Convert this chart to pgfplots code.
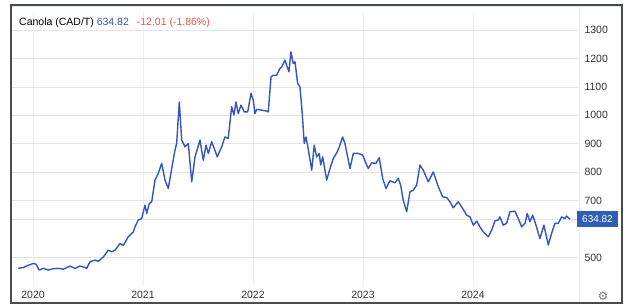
\documentclass[border=0pt]{standalone}
\usepackage{pgfplots}
\pgfplotsset{compat=1.18}
\usepackage{fontspec}
\setmainfont{Liberation Sans}
\newfontfamily\symfont{DejaVu Sans}
\definecolor{tblue}{HTML}{3556BE}
\definecolor{tbox}{HTML}{2E5FB7}
\definecolor{tred}{HTML}{E8554C}
\definecolor{tgrid}{HTML}{E4E4E4}
\definecolor{tvgrid}{HTML}{F0F0F0}
\definecolor{tprice}{HTML}{C9CEE6}
\definecolor{tlabel}{HTML}{333333}
\definecolor{tcyan}{HTML}{D0F0F4}
\begin{document}
\begin{tikzpicture}
\useasboundingbox (0pt,0pt) rectangle (631pt,306pt);
\fill[white] (0pt,0pt) rectangle (631pt,306pt);
\begin{axis}[
  at={(12pt,20pt)}, anchor=south west,
  scale only axis, width=566pt, height=273.1pt,
  xmin=2019.809, xmax=2024.955,
  ymin=400, ymax=1360,
  axis line style={draw=none},
  major tick length=0pt,
  xtick={2020,2021,2022,2023,2024},
  xticklabels={2020,2021,2022,2023,2024},
  ytick={500,700,800,900,1000,1100,1200,1300},
  yticklabel pos=right,
  xmajorgrids, ymajorgrids,
  x grid style={tvgrid, line width=0.8pt},
  y grid style={tgrid, line width=0.7pt},
  extra y ticks={634.82}, extra y tick labels={},
  extra y tick style={grid style={tprice, line width=0.8pt}},
  /pgf/number format/.cd, 1000 sep={}, assume math mode=true,
  /pgfplots/.cd,
  ticklabel style={font=\fontsize{10.5}{12}\selectfont, text=tlabel},
  yticklabel style={anchor=west, xshift=3pt},
  xticklabel style={anchor=north, yshift=-2pt},
  clip=false,
]
\addplot[tblue, line width=1.4pt, line join=round] coordinates {
(2019.866,462) (2019.912,465) (2019.957,473) (2020.003,479) (2020.027,477)
(2020.057,456) (2020.094,462) (2020.139,456) (2020.185,461) (2020.230,462)
(2020.275,459) (2020.336,470) (2020.382,462) (2020.427,470) (2020.473,465)
(2020.488,462) (2020.518,485) (2020.564,491) (2020.594,487) (2020.639,502)
(2020.685,526) (2020.715,520) (2020.745,526) (2020.791,549) (2020.821,543)
(2020.866,573) (2020.912,590) (2020.927,608) (2020.957,632) (2020.988,637)
(2021.018,684) (2021.034,655) (2021.057,690) (2021.079,696) (2021.109,772)
(2021.139,796) (2021.170,831) (2021.200,772) (2021.230,743) (2021.261,813)
(2021.291,878) (2021.306,901) (2021.330,1047) (2021.352,913) (2021.382,889)
(2021.412,901) (2021.443,766) (2021.473,854) (2021.518,913) (2021.548,842)
(2021.573,895) (2021.594,866) (2021.625,907) (2021.648,883) (2021.675,854)
(2021.715,889) (2021.745,924) (2021.775,919) (2021.806,1030) (2021.827,1001)
(2021.845,1047) (2021.866,1006) (2021.891,1036) (2021.921,1012) (2021.952,1012)
(2021.982,1077) (2022.003,1053) (2022.018,1006) (2022.034,1021) (2022.079,1018)
(2022.125,1015) (2022.139,1012) (2022.164,1135) (2022.185,1141) (2022.215,1141)
(2022.230,1153) (2022.245,1165) (2022.261,1170) (2022.291,1194) (2022.306,1176)
(2022.327,1153) (2022.345,1223) (2022.366,1182) (2022.382,1188) (2022.406,1112)
(2022.427,1100) (2022.448,1006) (2022.466,901) (2022.482,924) (2022.503,880)
(2022.534,807) (2022.557,895) (2022.579,854) (2022.603,866) (2022.615,825)
(2022.634,854) (2022.670,772) (2022.700,813) (2022.730,848) (2022.761,868)
(2022.785,889) (2022.815,924) (2022.836,901) (2022.882,813) (2022.912,866)
(2022.957,866) (2022.997,860) (2023.034,825) (2023.048,813) (2023.079,833)
(2023.118,831) (2023.148,851) (2023.179,778) (2023.209,743) (2023.245,770)
(2023.291,763) (2023.321,778) (2023.343,754) (2023.366,702) (2023.397,661)
(2023.427,731) (2023.457,737) (2023.488,754) (2023.518,825) (2023.548,807)
(2023.594,766) (2023.639,801) (2023.685,749) (2023.725,713) (2023.761,711)
(2023.791,696) (2023.821,675) (2023.866,696) (2023.897,678) (2023.943,649)
(2023.973,643) (2024.003,614) (2024.034,628) (2024.064,608) (2024.094,590)
(2024.139,573) (2024.170,596) (2024.200,629) (2024.230,632) (2024.245,643)
(2024.275,614) (2024.306,620) (2024.336,661) (2024.382,663) (2024.412,637)
(2024.443,608) (2024.473,620) (2024.494,655) (2024.518,626) (2024.543,649)
(2024.573,614) (2024.609,567) (2024.645,614) (2024.685,544) (2024.715,585)
(2024.745,620) (2024.775,620) (2024.806,643) (2024.836,637) (2024.852,646)
(2024.882,634.82)
};
\end{axis}
% right separator
\draw[tvgrid, line width=0.8pt] (579pt,4pt) -- (579pt,300pt);
% title
\node[anchor=west, inner sep=0pt, font=\fontsize{10.5}{12}\selectfont] at (19pt,283pt)
  {Canola (CAD/T) \textcolor{tblue}{634.82}\hspace{5pt} \textcolor{tred}{-12.01 (-1.86\%)}};
% price box
\node[fill=tbox, text=white, minimum width=41pt, minimum height=16pt, inner sep=1pt,
  font=\fontsize{10}{12}\selectfont] at (597.5pt,87pt) {634.82};
% gear
\node[text=gray, font=\symfont\fontsize{12}{12}\selectfont] at (603pt,10pt) {⚙};
% frame
\draw[tcyan, line width=0.8pt] (12pt,299.5pt) -- (621pt,299.5pt);
\draw[gray!60!black, line width=1.2pt] (11pt,3pt) rectangle (622pt,301pt);
\end{tikzpicture}
\end{document}
